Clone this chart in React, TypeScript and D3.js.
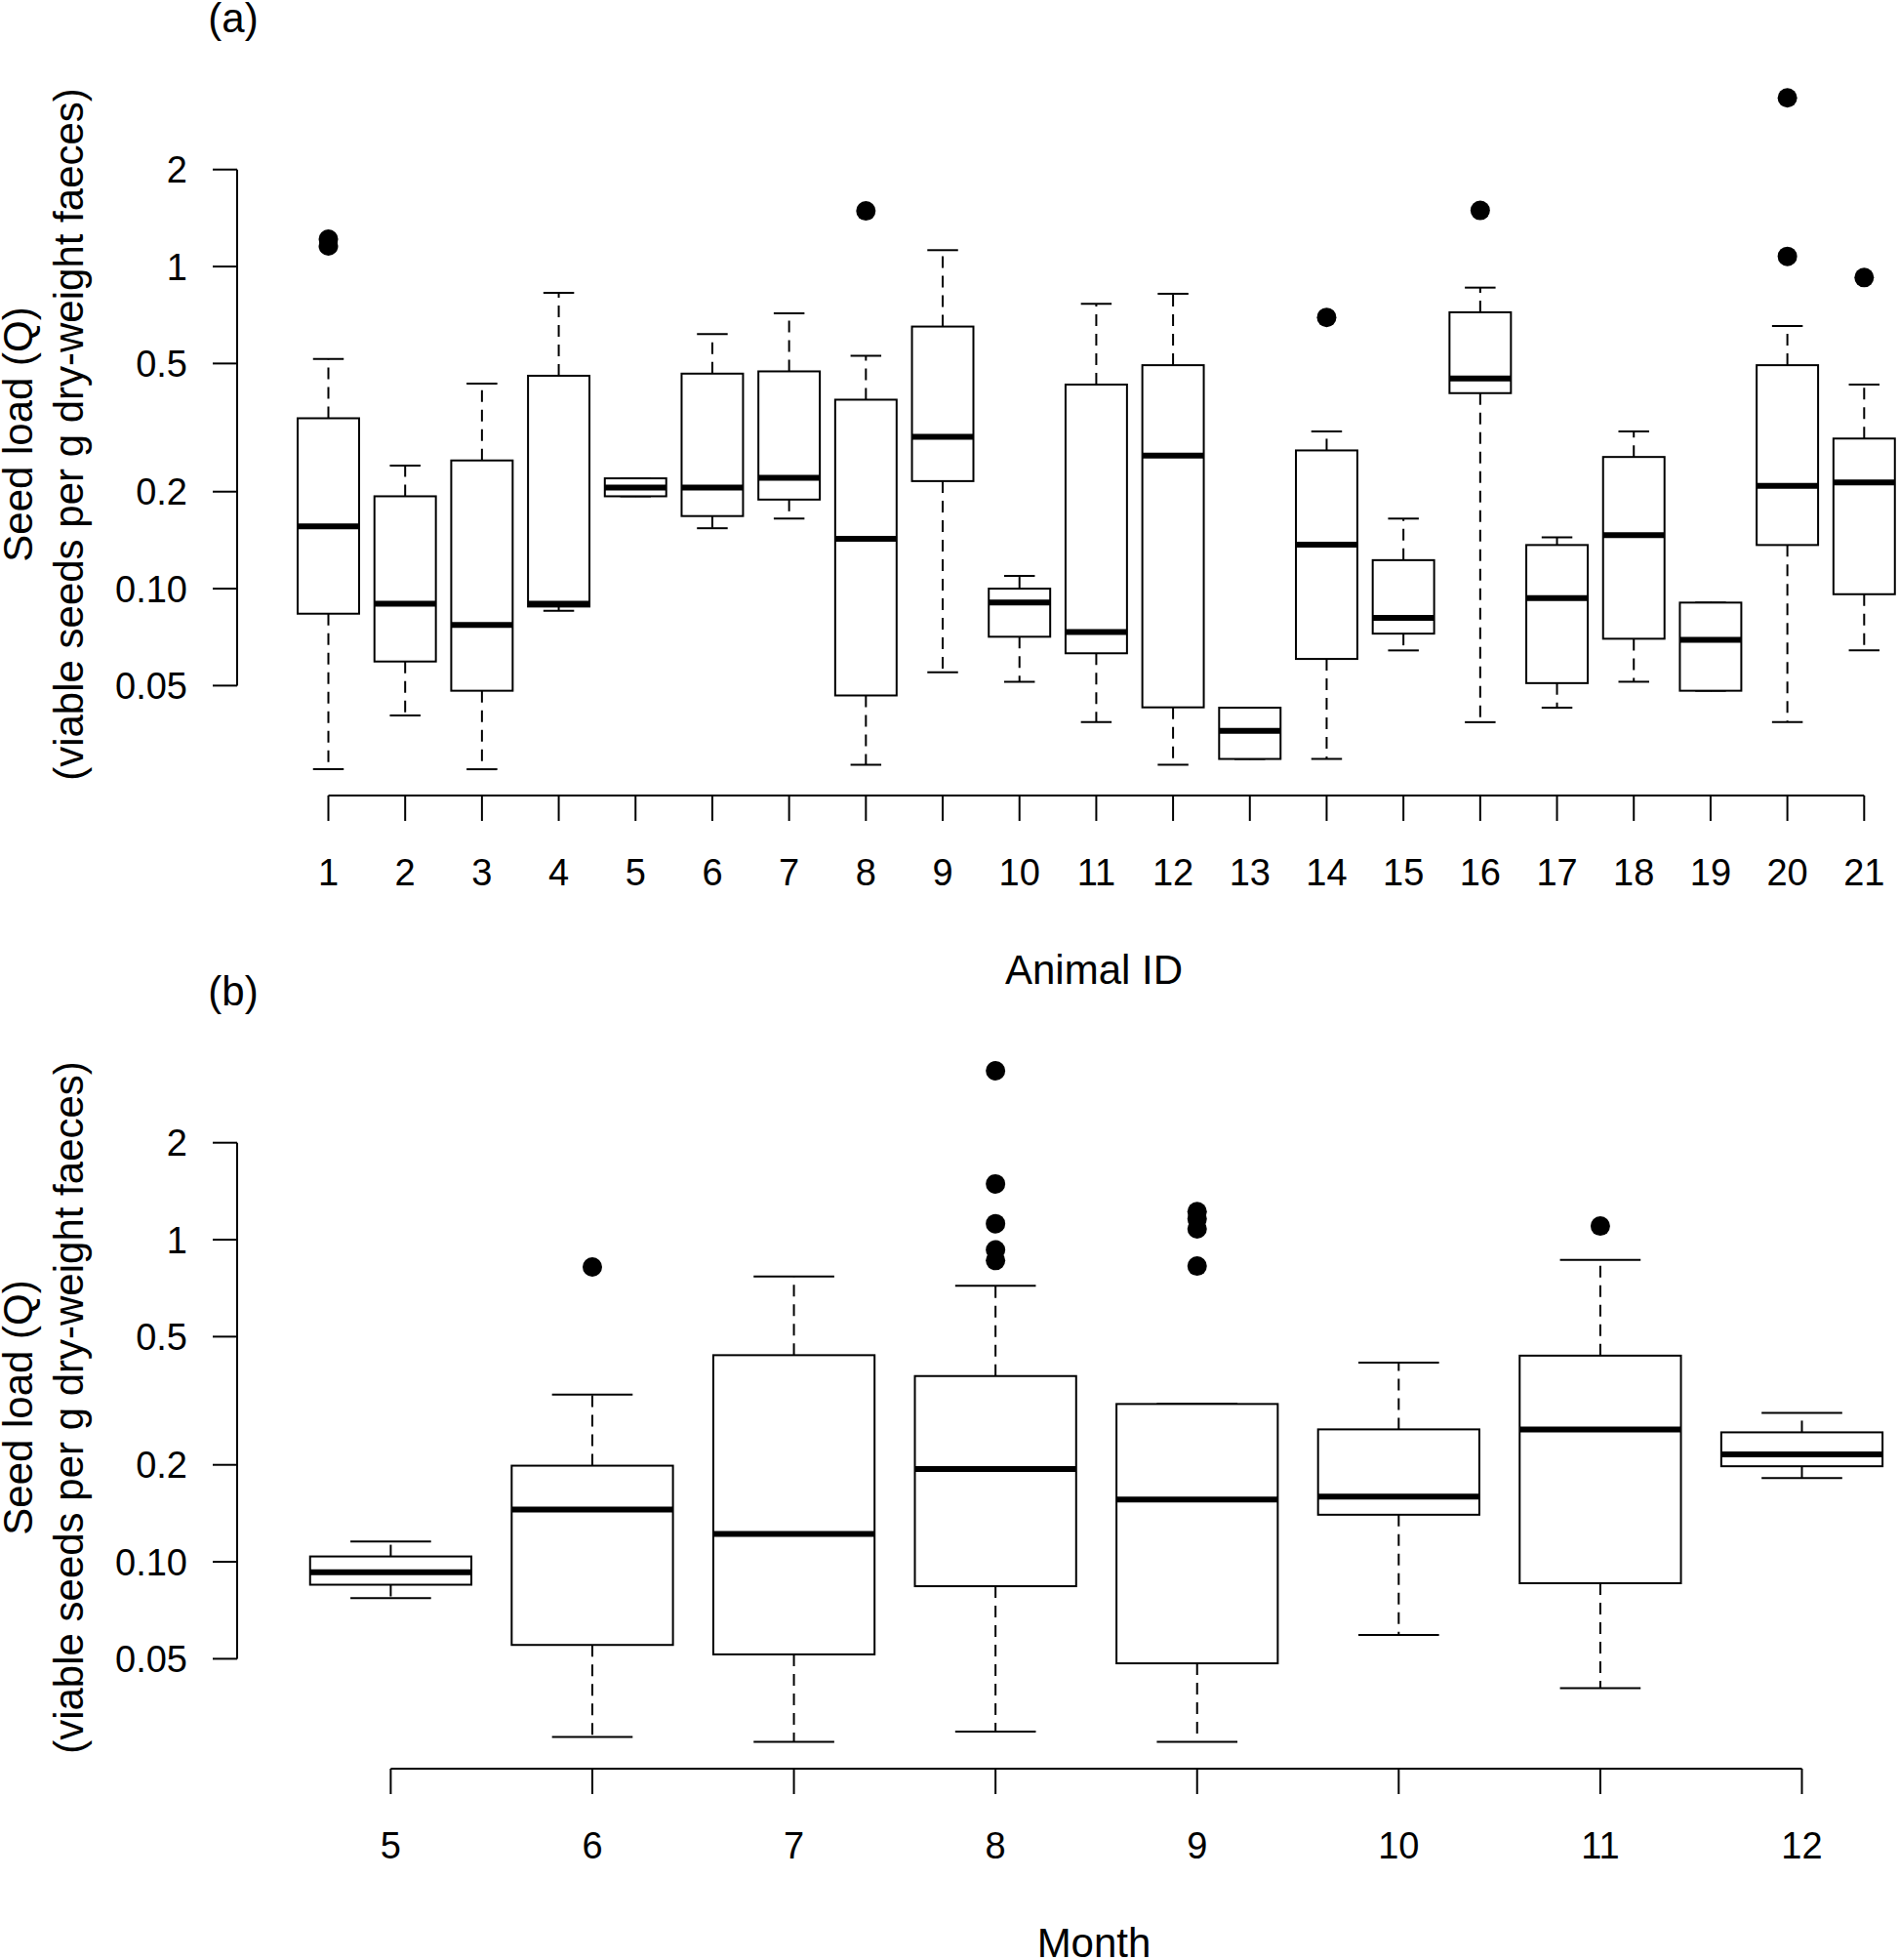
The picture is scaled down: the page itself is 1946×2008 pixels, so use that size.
import React from 'react';
import * as d3 from 'd3';

// ---------- Panel (a): Animal ID ----------
const animalIds = ['1','2','3','4','5','6','7','8','9','10','11','12','13','14','15','16','17','18','19','20','21'];
const animalLower = [0.0275,0.0404,0.0275,0.0853,0.1935,0.154,0.165,0.0284,0.055,0.0514,0.0385,0.0284,0.0296,0.0296,0.0643,0.0385,0.0427,0.0514,0.0482,0.0385,0.0643];
const animalQ1 = [0.0836,0.0594,0.0482,0.088,0.1935,0.168,0.189,0.0466,0.2157,0.0709,0.063,0.0428,0.0296,0.0605,0.0725,0.4045,0.0509,0.0699,0.0482,0.1366,0.0961];
const animalMedian = [0.156,0.0898,0.0771,0.0898,0.206,0.206,0.221,0.1427,0.2963,0.0905,0.0733,0.259,0.0362,0.137,0.0811,0.449,0.0935,0.1467,0.0694,0.2085,0.2136];
const animalQ3 = [0.338,0.1935,0.25,0.458,0.22,0.465,0.4726,0.386,0.651,0.1,0.43,0.494,0.0427,0.2686,0.1226,0.721,0.1366,0.2563,0.0905,0.494,0.2924];
const animalUpper = [0.516,0.241,0.433,0.828,0.22,0.617,0.716,0.528,1.124,0.1096,0.766,0.823,0.0427,0.3076,0.165,0.86,0.1443,0.3076,0.0905,0.654,0.43];
const animalOutliers = [[1.216,1.158],[],[],[],[],[],[],[1.488],[],[],[],[],[],[0.695],[],[1.493],[],[],[],[3.34,1.075],[0.924]];

// ---------- Panel (b): Month ----------
const months = ['5','6','7','8','9','10','11','12'];
const monthLower = [0.0772,0.0286,0.0276,0.0297,0.0276,0.0593,0.0405,0.1819];
const monthQ1 = [0.0849,0.0552,0.0516,0.084,0.0484,0.14,0.0858,0.198];
const monthMedian = [0.0928,0.1454,0.122,0.194,0.156,0.1594,0.2577,0.2157];
const monthQ3 = [0.1039,0.1988,0.438,0.3773,0.309,0.2577,0.4365,0.2523];
const monthUpper = [0.1157,0.3307,0.769,0.719,0.309,0.4155,0.865,0.29];
const monthOutliers = [[],[0.823],[],[3.345,1.49,1.121,0.929,0.862],[1.222,1.16,1.08,0.828],[],[1.102],[]];

const yTickValues = [0.05, 0.1, 0.2, 0.5, 1, 2];
const yTickLabels = ['0.05', '0.10', '0.2', '0.5', '1', '2'];

const FONT = '"Liberation Sans", Arial, Helvetica, sans-serif';

type PanelProps = {
  offsetY: number;
  tag: string;
  xTitle: string;
  cats: string[];
  lower: number[];
  q1: number[];
  med: number[];
  q3: number[];
  upper: number[];
  outliers: number[][];
  xStart: number;
  xEnd: number;
};

function BoxPanel(p: PanelProps) {
  const y = d3.scaleLog().domain([0.05, 2]).range([702.4, 173.7]);
  const x = d3.scalePoint<string>().domain(p.cats).range([p.xStart, p.xEnd]).padding(0);
  const step = x.step();
  const bw = step * 0.8;
  const cap = bw / 2;
  const axisX = 243;
  const axisY = 815;
  const lw = 2;
  return (
    <g transform={`translate(0,${p.offsetY})`}>
      {/* panel tag */}
      <text x={239} y={33} fontSize={42} textAnchor="middle" fontFamily={FONT}>{p.tag}</text>
      {/* y axis */}
      <line x1={axisX} x2={axisX} y1={y(2)} y2={y(0.05)} stroke="#000" strokeWidth={lw} />
      {yTickValues.map((v, i) => (
        <g key={i}>
          <line x1={axisX - 25} x2={axisX} y1={y(v)} y2={y(v)} stroke="#000" strokeWidth={lw} />
          <text x={192} y={y(v) + 13.6} fontSize={38} textAnchor="end" fontFamily={FONT}>{yTickLabels[i]}</text>
        </g>
      ))}
      {/* y title */}
      <g transform={`translate(33,445) rotate(-90)`}>
        <text x={0} y={0} fontSize={42} textAnchor="middle" fontFamily={FONT}>Seed load (Q)</text>
      </g>
      <g transform={`translate(84.5,445) rotate(-90)`}>
        <text x={0} y={0} fontSize={42} textAnchor="middle" fontFamily={FONT}>(viable seeds per g dry-weight faeces)</text>
      </g>
      {/* x axis */}
      <line x1={x(p.cats[0])} x2={x(p.cats[p.cats.length - 1])} y1={axisY} y2={axisY} stroke="#000" strokeWidth={lw} />
      {p.cats.map((c) => (
        <g key={c}>
          <line x1={x(c)} x2={x(c)} y1={axisY} y2={axisY + 26} stroke="#000" strokeWidth={lw} />
          <text x={x(c)} y={906.6} fontSize={38} textAnchor="middle" fontFamily={FONT}>{c}</text>
        </g>
      ))}
      <text x={1121} y={1008} fontSize={42} textAnchor="middle" fontFamily={FONT}>{p.xTitle}</text>
      {/* boxes */}
      {p.cats.map((c, i) => {
        const cx = x(c) as number;
        return (
          <g key={'b' + c}>
            <line x1={cx} x2={cx} y1={y(p.q3[i])} y2={y(p.upper[i])} stroke="#000" strokeWidth={lw} strokeDasharray="12,8" />
            <line x1={cx} x2={cx} y1={y(p.q1[i])} y2={y(p.lower[i])} stroke="#000" strokeWidth={lw} strokeDasharray="12,8" />
            <line x1={cx - cap / 2} x2={cx + cap / 2} y1={y(p.upper[i])} y2={y(p.upper[i])} stroke="#000" strokeWidth={lw} />
            <line x1={cx - cap / 2} x2={cx + cap / 2} y1={y(p.lower[i])} y2={y(p.lower[i])} stroke="#000" strokeWidth={lw} />
            <rect x={cx - bw / 2} y={y(p.q3[i])} width={bw} height={y(p.q1[i]) - y(p.q3[i])} fill="#fff" stroke="#000" strokeWidth={lw} />
            <line x1={cx - bw / 2} x2={cx + bw / 2} y1={y(p.med[i])} y2={y(p.med[i])} stroke="#000" strokeWidth={6} />
            {p.outliers[i].map((o, j) => (
              <circle key={j} cx={cx} cy={y(o)} r={10} fill="#000" />
            ))}
          </g>
        );
      })}
    </g>
  );
}

export default function App() {
  return (
    <svg width={1946} height={2008} viewBox="0 0 1946 2008" style={{ position: 'absolute', left: 0, top: 0, background: '#fff' }}>
      <rect x={0} y={0} width={1946} height={2008} fill="#fff" />
      <BoxPanel offsetY={0} tag="(a)" xTitle="Animal ID" cats={animalIds}
        lower={animalLower} q1={animalQ1} med={animalMedian} q3={animalQ3} upper={animalUpper} outliers={animalOutliers}
        xStart={336.5} xEnd={1910.3} />
      <BoxPanel offsetY={997} tag="(b)" xTitle="Month" cats={months}
        lower={monthLower} q1={monthQ1} med={monthMedian} q3={monthQ3} upper={monthUpper} outliers={monthOutliers}
        xStart={400.4} xEnd={1846.5} />
    </svg>
  );
}
